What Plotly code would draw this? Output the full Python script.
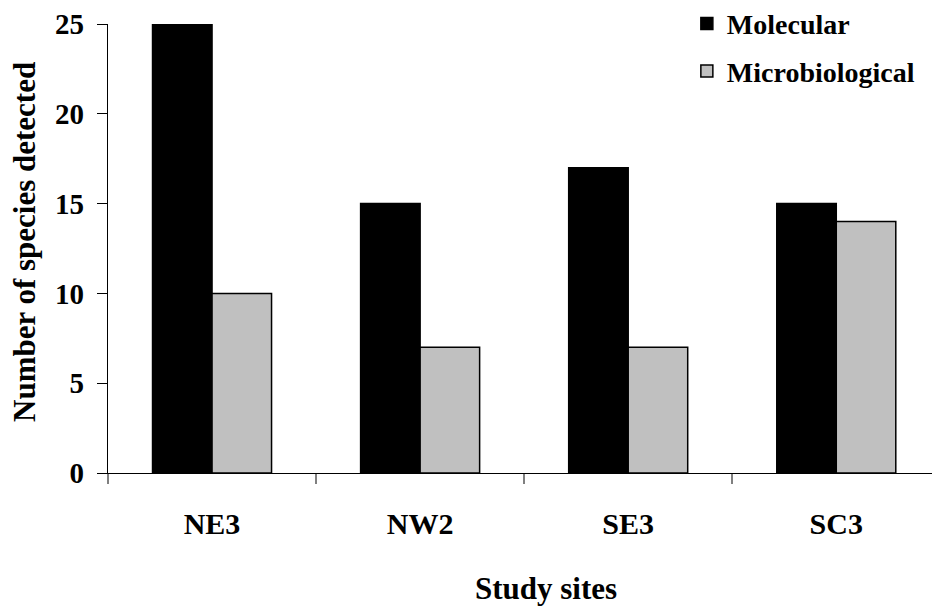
import plotly.graph_objects as go

sites = ["NE3", "NW2", "SE3", "SC3"]
molecular = [25, 15, 17, 15]
microbiological = [10, 7, 7, 14]
y_ticks = [0, 5, 10, 15, 20, 25]

FONT = "Liberation Serif"
W, H = 932, 609
L, R, T, B = 108, 0, 24, 136
PW, PH = W - L - R, H - T - B

fig = go.Figure()
fig.add_trace(go.Bar(
    x=sites, y=molecular, name="<b>Molecular</b>",
    marker=dict(color="#000000", line=dict(color="#000000", width=1.5)),
    legendgroup="a",
))
fig.add_trace(go.Bar(
    x=sites, y=microbiological, name="<b>Microbiological</b>",
    marker=dict(color="#C0C0C0", line=dict(color="#000000", width=1.5)),
    legendgroup="b",
))

fig.update_layout(
    width=W, height=H,
    margin=dict(l=L, r=R, t=T, b=B, autoexpand=False),
    paper_bgcolor="white", plot_bgcolor="white",
    barmode="group", bargap=0.428, bargroupgap=0,
    font=dict(family=FONT, color="black", size=28),
    showlegend=True,
    legend=dict(
        x=0.7025, y=1.056, xanchor="left", yanchor="top",
        font=dict(family=FONT, size=28, color="black"),
        bgcolor="rgba(0,0,0,0)", tracegroupgap=8,
        traceorder="grouped",
    ),
    xaxis=dict(
        range=[-0.5, 3.46],
        tickvals=sites, ticktext=[f"<b>{s}</b>" for s in sites],
        showline=True, linecolor="black", linewidth=1.2,
        ticks="outside", tickson="boundaries", ticklen=10, tickcolor="#808080", tickwidth=1.5,
        tickfont=dict(family=FONT, size=30, color="black"),
        ticklabelstandoff=24,
        showgrid=False, zeroline=False, automargin=False,
    ),
    yaxis=dict(
        range=[0, 25],
        tickvals=y_ticks, ticktext=[f"<b>{v}</b>" for v in y_ticks],
        showline=True, linecolor="black", linewidth=1.2,
        ticks="outside", ticklen=10, tickcolor="black", tickwidth=1.2,
        tickfont=dict(family=FONT, size=29, color="black"),
        ticklabelstandoff=7,
        showgrid=False, zeroline=False, automargin=False,
    ),
    annotations=[
        dict(
            text="<b>Study sites</b>", xref="paper", yref="paper",
            x=(546 - L) / PW, y=-(588 - (T + PH)) / PH,
            xanchor="center", yanchor="middle", showarrow=False,
            font=dict(family=FONT, size=31, color="black"),
        ),
        dict(
            text="<b>Number of species detected</b>", xref="paper", yref="paper",
            x=(24 - L) / PW, y=((T + PH) - 242) / PH, textangle=-90,
            xanchor="center", yanchor="middle", showarrow=False,
            font=dict(family=FONT, size=31, color="black"),
        ),
    ],
)

fig.write_html("out.html", config={"displayModeBar": False},
               post_script="document.body.style.margin='0';")
